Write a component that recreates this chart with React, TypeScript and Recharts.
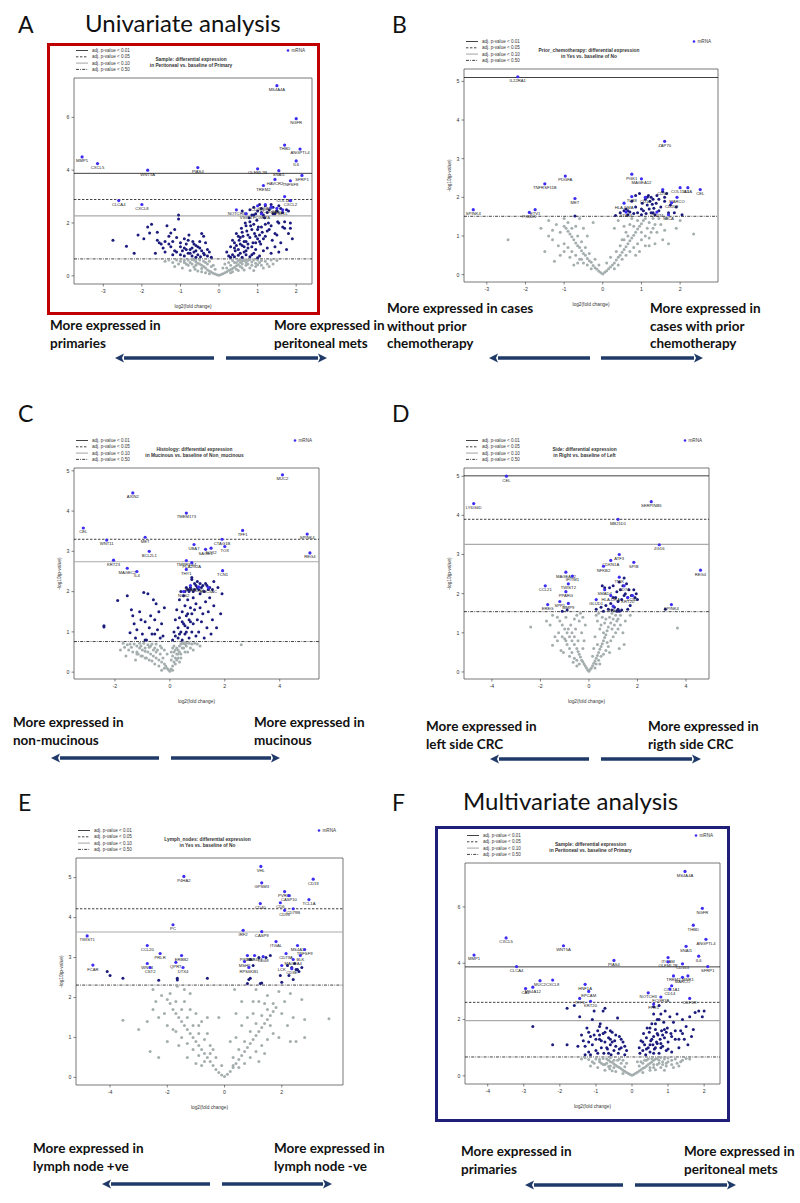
import React from 'react'
import { ScatterChart, Scatter, XAxis, YAxis, ReferenceLine, ReferenceArea } from 'recharts'

type P = [number, number]
type G = [string, number, number]

// ---- panel A: univariate, peritoneal vs primary ----
const aCuts = [3.88, 2.89, 2.27, 0.64]
const aGrey: P[] = [
  [0, 0.02], [0.05, 0.05], [-0.05, 0.04], [0.1, 0.08], [-0.1, 0.07], [0.15, 0.12], [-0.15, 0.1], [0.2, 0.15], [-0.2, 0.14],
  [0.25, 0.2], [-0.25, 0.18], [0.3, 0.24], [-0.3, 0.22], [0.35, 0.28], [-0.35, 0.3], [0.4, 0.32], [-0.4, 0.35], [0.45, 0.38],
  [-0.45, 0.4], [0.5, 0.42], [-0.5, 0.45], [0.55, 0.5], [-0.55, 0.48], [0.6, 0.55], [-0.6, 0.52], [0.65, 0.58], [-0.65, 0.6],
  [0.7, 0.6], [-0.7, 0.62], [0.8, 0.62], [-0.8, 0.6], [0.9, 0.6], [-0.9, 0.58], [1.0, 0.6], [1.1, 0.58], [-1.0, 0.55],
  [1.2, 0.55], [0.3, 0.4], [0.4, 0.5], [0.5, 0.58], [0.6, 0.45], [0.7, 0.5], [0.2, 0.3], [-0.3, 0.45], [-0.4, 0.55],
  [-0.5, 0.6], [-0.2, 0.35], [0.35, 0.15], [-0.35, 0.12], [0.45, 0.25], [-0.45, 0.28], [0.55, 0.35], [-0.6, 0.4],
  [0.75, 0.45], [0.85, 0.52], [-0.75, 0.5], [1.05, 0.5], [0.95, 0.48], [-0.85, 0.45], [-1.2, 0.5], [-1.4, 0.55],
  [-1.1, 0.6], [1.35, 0.6], [1.5, 0.58],
  [-0.95, 0.3], [-0.75, 0.2], [-0.62, 0.25], [0.8, 0.3], [0.95, 0.35], [1.1, 0.4], [1.25, 0.45], [0.65, 0.22],
  [-0.55, 0.18], [-0.8, 0.4], [-1.05, 0.45], [-1.3, 0.6], [0.9, 0.2], [1.15, 0.3], [0.5, 0.2], [-0.45, 0.15],
  [0.3, 0.12], [-0.25, 0.08], [0.6, 0.3], [-0.65, 0.33], [0.45, 0.5], [-0.35, 0.5], [0.25, 0.5], [-0.15, 0.4],
  [0.15, 0.45], [0.1, 0.3], [-0.1, 0.25], [1.3, 0.35], [1.4, 0.45], [-1.15, 0.35], [0.7, 0.4], [0.85, 0.4], [1.0, 0.42],
  [-0.9, 0.5], [-0.7, 0.45], [0.55, 0.62], [0.35, 0.58], [-0.25, 0.55], [-0.6, 0.62], [0.75, 0.58],
]
const aBlue: P[] = [
  [-2.75, 1.35], [-2.4, 1.12], [-2.2, 0.85], [-1.95, 1.4], [-1.85, 1.85], [-1.8, 1.62], [-1.75, 1.95], [-1.6, 1.35],
  [-1.55, 1.25], [-1.5, 1.2], [-1.45, 1.05], [-1.4, 0.9], [-1.35, 1.9], [-1.3, 1.5], [-1.25, 1.62], [-1.2, 1.3],
  [-1.15, 1.75], [-1.1, 1.45], [-1.05, 2.3], [-1.05, 2.15], [-1.0, 1.1], [-0.95, 0.95], [-0.9, 1.4], [-0.85, 1.2],
  [-0.8, 0.85], [-0.78, 1.55], [-0.75, 1.0], [-0.7, 0.75], [-0.68, 1.3], [-0.65, 0.9], [-0.6, 1.15], [-0.55, 0.8],
  [-0.5, 1.05], [-0.48, 0.72], [-0.45, 0.95], [-0.4, 1.5], [-0.38, 0.8], [-0.35, 1.25], [-0.3, 0.75], [-0.25, 0.9],
  [-0.9, 0.75], [-1.0, 0.8], [-1.15, 0.95], [-1.25, 1.1], [-0.6, 0.95], [-0.7, 1.05], [-0.85, 1.0], [-1.6, 1.65],
  [-1.65, 0.85], [-2.1, 1.55], [-0.2, 0.7], [-0.5, 1.3], [-0.55, 1.1], [-0.65, 1.2], [-0.75, 0.85], [-0.8, 1.35],
  [-0.9, 1.05], [-1.0, 1.25], [-1.1, 0.9], [-1.2, 0.8], [-0.4, 0.85], [-0.3, 1.0], [-0.6, 0.7], [-0.45, 1.6],
  [-1.3, 1.2], [-1.4, 1.3],
  [0.2, 0.9], [0.25, 0.75], [0.3, 1.1], [0.35, 0.8], [0.4, 1.25], [0.42, 0.95], [0.45, 1.6], [0.5, 1.0], [0.52, 1.35],
  [0.55, 0.85], [0.58, 1.8], [0.6, 1.15], [0.62, 1.5], [0.65, 0.9], [0.68, 2.0], [0.7, 1.3], [0.72, 1.7], [0.75, 1.05],
  [0.78, 2.2], [0.8, 1.45], [0.82, 1.9], [0.85, 0.8], [0.88, 1.25], [0.9, 2.3], [0.92, 1.6], [0.95, 1.0], [0.98, 2.1],
  [1.0, 1.4], [1.02, 1.85], [1.05, 0.75], [1.08, 1.2], [1.1, 2.4], [1.12, 1.65], [1.15, 0.95], [1.18, 2.2], [1.2, 1.5],
  [1.25, 1.05], [1.28, 2.0], [1.3, 1.75], [1.35, 0.85], [1.38, 1.35], [1.4, 2.35], [1.45, 1.1], [1.5, 1.55], [1.52, 2.05],
  [1.55, 0.9], [1.6, 1.25], [1.65, 1.85], [1.7, 2.05], [1.75, 1.0], [1.8, 1.6], [1.85, 2.0], [1.9, 1.4], [0.65, 1.1],
  [0.55, 1.2], [0.75, 1.55], [0.85, 1.75], [0.95, 1.25], [1.05, 1.55], [0.7, 0.95],
  [0.3, 0.7], [0.4, 0.72], [0.5, 0.78], [0.6, 0.7], [0.7, 0.8], [0.8, 0.72], [0.9, 0.85], [1.0, 0.68], [0.45, 1.15],
  [0.55, 1.45], [0.65, 1.3], [0.75, 1.2], [0.85, 1.1], [0.95, 1.5], [1.05, 1.3], [1.15, 1.4], [1.25, 1.7], [1.35, 1.9],
  [1.45, 1.6], [0.6, 1.65], [0.7, 1.9], [0.8, 2.05], [0.9, 1.95], [1.0, 1.75], [1.1, 1.85], [1.2, 1.95], [0.5, 1.5],
  [0.4, 1.05], [0.35, 1.35],
  [0.6, 2.45], [0.7, 2.35], [0.8, 2.5], [0.9, 2.6], [1.0, 2.45], [1.1, 2.55], [1.2, 2.65], [1.3, 2.5], [1.4, 2.6],
  [1.5, 2.45], [1.6, 2.55], [0.95, 2.35], [1.05, 2.7], [1.25, 2.4], [1.35, 2.7], [1.45, 2.35], [1.15, 2.3], [0.85, 2.3],
  [1.55, 2.65], [1.65, 2.4], [1.75, 2.5], [1.8, 2.45], [1.7, 1.8], [1.85, 1.8], [1.55, 2.0],
]
const aGenes: G[] = [
  ['MS4A4A', 1.5, 7.2], ['NGFR', 2.0, 5.95], ['THBD', 1.7, 4.95], ['ANGPTL4', 2.1, 4.8], ['IL6', 2.0, 4.35],
  ['MMP1', -3.55, 4.5], ['CXCL5', -3.15, 4.25], ['WNT5A', -1.85, 4.0], ['PIAS4', -0.55, 4.1], ['OLFML2B', 1.0, 4.05],
  ['SNAI1', 1.55, 3.98], ['SFRP1', 2.15, 3.8], ['HAVCR2', 1.45, 3.65], ['TNFSF8', 1.85, 3.6], ['TREM2', 1.15, 3.42],
  ['CLCA4', -2.6, 2.85], ['CXCL8', -2.0, 2.7], ['COL1A1', 1.7, 3.0], ['CXCL2', 1.85, 2.85], ['NOTCH3', 0.45, 2.5],
  ['CD163', 1.0, 2.65], ['ITGAM', 1.2, 2.7], ['COL6A3', 1.35, 2.6], ['MSR1', 1.5, 2.55], ['FCGR2A', 1.1, 2.35],
  ['SELL', 1.65, 2.5], ['VSIG4', 0.7, 2.35],
]

// ---- panel B: prior chemotherapy ----
const bCuts = [5.1, null, null, 1.51]
const bGrey: P[] = [
  [0, 0.02], [0.05, 0.06], [-0.05, 0.05], [0.1, 0.1], [-0.1, 0.09], [0.15, 0.15], [-0.15, 0.14], [0.2, 0.2], [-0.2, 0.18],
  [0.25, 0.25], [-0.25, 0.24], [0.3, 0.3], [-0.3, 0.32], [0.35, 0.38], [-0.35, 0.36], [0.4, 0.45], [-0.4, 0.42], [0.45, 0.5],
  [-0.45, 0.5], [0.5, 0.58], [-0.5, 0.55], [0.55, 0.65], [-0.55, 0.62], [0.6, 0.72], [-0.6, 0.7], [0.65, 0.8], [-0.65, 0.75],
  [0.7, 0.88], [-0.7, 0.82], [0.75, 0.95], [-0.75, 0.9], [0.8, 1.02], [-0.8, 0.98], [0.85, 1.1], [-0.85, 1.05], [0.9, 1.18],
  [-0.9, 1.12], [0.95, 1.25], [-0.95, 1.2], [1.0, 1.32], [-1.0, 1.25], [1.05, 1.4], [1.1, 1.45], [1.2, 1.35], [1.3, 1.2],
  [1.4, 1.1], [1.5, 1.3], [1.6, 1.15], [1.7, 0.8], [1.9, 1.2], [2.35, 1.05], [-1.1, 1.1], [-1.2, 1.3], [-1.3, 0.9],
  [-1.4, 1.0], [-1.5, 0.6], [-0.5, 0.3], [0.5, 0.4], [0.6, 0.5], [0.7, 0.6], [0.8, 0.7], [0.9, 0.8], [1.0, 0.9], [1.1, 1.0],
  [-0.6, 0.4], [-0.7, 0.5], [-0.8, 0.6], [-0.9, 0.7], [-1.0, 0.8], [0.3, 0.15], [-0.3, 0.15], [0.4, 0.25], [-0.4, 0.25],
  [1.2, 0.95], [0.6, 1.1], [0.7, 1.3], [0.75, 1.45], [-0.25, 1.35], [-0.4, 1.0], [-0.6, 1.45], [-0.7, 1.25], [-1.1, 0.5],
  [-1.25, 0.35], [-2.45, 0.9], [-0.75, 0.25], [1.3, 1.45], [0.4, 1.4], [0.3, 1.2], [0.5, 0.9],
  [-0.2, 0.4], [0.2, 0.45], [0.1, 0.3], [-0.1, 0.25], [0.35, 0.6], [-0.35, 0.55], [0.45, 0.75], [-0.45, 0.7],
  [0.55, 0.9], [-0.55, 0.85], [0.65, 1.0], [-0.65, 1.0], [0.8, 1.25], [-0.8, 1.2], [0.9, 1.4], [-0.9, 1.35], [1.0, 1.1],
  [1.15, 1.2], [1.25, 1.1], [1.35, 1.3], [1.45, 1.45], [1.55, 0.9], [0.95, 0.6], [0.85, 0.5], [1.2, 0.75], [1.35, 0.8],
  [-0.55, 0.4], [-0.65, 0.3], [-0.85, 0.45], [-1.0, 0.6], [-1.15, 0.75], [-1.3, 1.15], [-1.4, 1.4], [-1.0, 1.45],
  [-0.5, 1.2], [0.55, 1.25], [1.1, 0.75], [1.65, 1.45], [2.0, 1.4], [-1.6, 1.2],
]
const bBlue: P[] = [
  [-0.72, 1.52], [0.33, 1.53], [0.45, 1.6], [0.55, 1.65], [0.6, 1.7], [0.65, 1.55], [0.7, 1.62], [0.75, 1.9], [0.8, 1.58],
  [0.85, 1.75], [0.9, 1.6], [0.95, 2.1], [1.0, 1.55], [1.02, 1.85], [1.05, 1.65], [1.1, 1.95], [1.12, 1.58], [1.15, 1.8],
  [1.18, 2.05], [1.2, 1.7], [1.22, 1.9], [1.25, 1.6], [1.28, 1.82], [1.3, 1.95], [1.32, 1.72], [1.35, 1.55], [1.38, 1.85],
  [1.4, 2.05], [1.45, 1.65], [1.5, 1.75], [1.55, 2.15], [1.6, 1.9], [1.65, 2.1], [1.7, 1.6], [1.75, 1.8], [1.85, 1.6],
  [1.9, 1.75], [2.05, 1.55], [1.15, 2.0], [1.25, 2.0], [0.85, 2.05], [0.65, 1.65], [1.0, 1.7], [1.3, 1.6], [1.45, 1.95],
  [1.6, 2.0],
]
const bGenes: G[] = [
  ['IL22RA1', -2.2, 5.12], ['ZAP70', 1.6, 3.45], ['PDGFA', -0.97, 2.55], ['TNFRSF11B', -1.5, 2.35], ['MET', -0.72, 1.97],
  ['SPINK4', -3.35, 1.68], ['ETV1', -1.75, 1.68], ['PCBD1', -1.9, 1.61], ['PGK1', 0.75, 2.6], ['MAGEA12', 1.0, 2.48],
  ['CD59', 1.55, 2.2], ['COL11A1', 2.0, 2.25], ['IL1A', 2.2, 2.25], ['CEL', 2.52, 2.2], ['MARCO', 1.92, 2.0],
  ['CD209', 1.78, 1.86], ['HLA-DMA', 0.55, 1.85], ['TLR8', 0.75, 2.02], ['CD14', 1.1, 2.0], ['STAT4', 0.6, 1.62],
  ['CD274', 1.4, 1.62], ['MICA', 1.7, 1.55],
]

// ---- panel C: histology ----
const cCuts = [null, 3.3, 2.74, 0.76]
const cGrey: P[] = [
  [0, 0.02], [0.05, 0.08], [-0.05, 0.06], [0.1, 0.15], [-0.1, 0.1], [0.15, 0.25], [-0.15, 0.15], [0.2, 0.35], [-0.2, 0.2],
  [0.25, 0.45], [-0.3, 0.25], [0.3, 0.55], [-0.4, 0.3], [0.35, 0.65], [-0.5, 0.35], [0.4, 0.7], [-0.6, 0.4], [0.45, 0.72],
  [-0.7, 0.45], [0.5, 0.6], [-0.8, 0.5], [0.55, 0.7], [-0.9, 0.52], [0.6, 0.65], [-1.0, 0.55], [0.7, 0.72], [-1.1, 0.6],
  [0.8, 0.7], [-1.2, 0.65], [0.9, 0.72], [-1.3, 0.7], [-1.4, 0.62], [-1.5, 0.55], [-1.6, 0.4], [-1.7, 0.72], [-1.55, 0.68],
  [-0.45, 0.55], [-0.55, 0.6], [-0.65, 0.7], [-0.35, 0.45], [-0.25, 0.35], [0.1, 0.4], [0.2, 0.55], [0.15, 0.5], [0.3, 0.35],
  [0.4, 0.45], [0.25, 0.6], [0.05, 0.3], [-0.75, 0.62], [-0.85, 0.35], [-1.05, 0.4], [-0.95, 0.72], [-1.15, 0.45],
  [-1.25, 0.3], [2.6, 0.68], [0.35, 0.25], [-0.3, 0.6], [-0.5, 0.7], [1.0, 0.7], [0.65, 0.5],
  [-0.3, 0.05], [0.1, 0.05], [-0.2, 0.1], [-0.4, 0.15], [-0.55, 0.2], [-0.65, 0.28], [-0.75, 0.3], [-0.9, 0.35],
  [-1.0, 0.4], [-1.2, 0.45], [-1.35, 0.5], [-1.45, 0.7], [0.2, 0.2], [0.25, 0.3], [0.3, 0.45], [0.35, 0.5], [0.45, 0.6],
  [0.55, 0.5], [0.6, 0.72], [0.75, 0.6], [0.85, 0.55], [-0.6, 0.55], [-0.7, 0.65], [-0.8, 0.68], [-0.9, 0.6],
  [-1.05, 0.65], [-1.1, 0.72], [-1.2, 0.5], [-0.35, 0.65], [-0.2, 0.55], [0.05, 0.5], [0.1, 0.6], [0.15, 0.65],
  [-0.1, 0.45], [0.4, 0.35], [-0.5, 0.5], [-1.8, 0.55], [-1.65, 0.62], [1.1, 0.65], [0.5, 0.72],
]
const cBlue: P[] = [
  [-2.4, 1.15], [-2.4, 1.12], [-1.9, 1.78], [-1.55, 1.9], [-1.45, 0.98], [-1.35, 1.4], [-1.3, 1.2], [-1.25, 0.85],
  [-1.2, 1.05], [-1.1, 1.5], [-1.05, 1.3], [-1.0, 0.95], [-0.95, 1.98], [-0.9, 1.25], [-0.85, 0.8], [-0.8, 1.95],
  [-0.75, 1.1], [-0.7, 1.4], [-0.65, 0.95], [-0.6, 1.8], [-0.55, 1.3], [-0.5, 1.7], [-0.45, 1.05], [-0.4, 1.5],
  [-0.35, 0.85], [-0.3, 1.2], [-0.25, 0.9], [-0.2, 1.6], [-1.4, 1.55], [-0.9, 0.8], [-0.55, 0.95],
  [0.1, 0.8], [0.15, 1.0], [0.2, 1.3], [0.2, 0.9], [0.25, 1.55], [0.3, 1.1], [0.3, 0.85], [0.35, 1.8], [0.35, 1.35],
  [0.4, 1.0], [0.4, 2.0], [0.45, 1.5], [0.45, 0.8], [0.5, 1.2], [0.5, 1.9], [0.55, 1.65], [0.55, 0.95], [0.6, 1.4],
  [0.6, 2.1], [0.65, 1.1], [0.65, 1.8], [0.7, 1.3], [0.7, 0.85], [0.75, 1.6], [0.75, 2.05], [0.8, 1.0], [0.8, 1.45],
  [0.85, 1.85], [0.85, 1.2], [0.9, 2.2], [0.9, 1.55], [0.95, 0.9], [0.95, 1.7], [1.0, 1.3], [1.0, 2.1], [1.05, 1.0],
  [1.1, 1.6], [1.1, 1.95], [1.15, 1.25], [1.2, 2.15], [1.2, 1.45], [1.25, 0.85], [1.3, 1.75], [1.35, 1.1], [1.4, 1.5],
  [1.45, 1.85], [1.5, 0.95], [1.55, 1.3], [1.6, 1.65], [1.7, 1.1], [1.75, 2.1], [1.85, 1.45], [1.9, 1.95], [1.3, 2.2],
  [1.4, 2.05], [1.6, 2.25], [1.0, 2.25], [0.8, 2.3], [0.7, 2.0], [0.6, 1.0], [0.45, 1.25], [0.35, 0.95], [0.55, 1.15],
  [0.65, 1.45], [0.75, 1.25], [0.55, 2.0], [0.65, 2.05], [0.75, 2.1], [0.85, 2.0], [0.95, 2.15], [1.05, 2.05],
  [1.15, 2.1], [1.25, 2.0], [1.35, 2.15], [1.45, 2.1], [1.55, 2.05], [0.9, 2.05], [1.1, 2.2], [0.8, 2.35],
]
const cGenes: G[] = [
  ['MUC2', 4.1, 4.9], ['AXIN2', -1.35, 4.45], ['TMEM173', 0.6, 3.95], ['CEL', -3.15, 3.58], ['TFF1', 2.65, 3.52],
  ['SPINK4', 5.0, 3.43], ['WNT11', -2.3, 3.28], ['MET', -0.9, 3.35], ['CTAG1B', 1.9, 3.3], ['UBA7', 0.88, 3.17],
  ['TOX', 2.0, 3.12], ['SOX2', 1.5, 3.08], ['SAGE1', 1.3, 3.05], ['BCL2L1', -0.75, 3.0], ['REG4', 5.1, 2.96],
  ['KRT23', -2.05, 2.78], ['TMPRSS4', 0.6, 2.77], ['PLA2G2A', 0.8, 2.72], ['MAGEC2', -1.55, 2.58], ['IL4', -1.2, 2.5],
  ['THY1', 0.6, 2.55], ['TCN1', 1.92, 2.52], ['VCAN', 0.75, 2.15], ['NOS2', 0.5, 2.0], ['MUC5AC', 1.4, 2.1],
  ['CD44', 1.05, 2.12],
]

// ---- panel D: side ----
const dCuts = [5.01, 3.9, 3.26, 1.54]
const dGrey: P[] = [
  [0, 0.02], [0.05, 0.06], [-0.05, 0.05], [0.1, 0.1], [-0.1, 0.1], [0.15, 0.16], [-0.15, 0.15], [0.2, 0.22], [-0.2, 0.2],
  [0.25, 0.28], [-0.25, 0.26], [0.3, 0.35], [-0.3, 0.3], [0.35, 0.42], [-0.35, 0.38], [0.4, 0.5], [-0.4, 0.45], [0.45, 0.58],
  [-0.45, 0.52], [0.5, 0.65], [-0.5, 0.6], [0.55, 0.72], [-0.6, 0.7], [0.6, 0.8], [-0.7, 0.8], [0.65, 0.88], [-0.8, 0.9],
  [0.7, 0.95], [-0.9, 1.0], [0.75, 1.05], [-1.0, 1.1], [0.8, 1.15], [-1.1, 1.2], [0.9, 1.25], [-1.2, 1.3], [1.0, 1.35],
  [-1.3, 1.4], [1.1, 1.45], [-1.4, 0.9], [-1.3, 0.8], [-1.15, 0.55], [-1.0, 0.85], [-0.9, 0.7], [-0.8, 0.6], [-0.7, 0.5],
  [-0.6, 0.35], [-0.5, 0.3], [-0.4, 0.2], [0.3, 0.2], [0.4, 0.3], [0.5, 0.4], [0.6, 0.45], [0.7, 0.55], [0.8, 0.65],
  [0.9, 0.8], [1.0, 0.9], [1.1, 1.0], [1.2, 1.1], [0.85, 0.5], [1.2, 1.35], [1.3, 1.2], [0.55, 1.4], [0.35, 1.3],
  [-0.5, 1.45], [-0.6, 1.35], [-0.35, 1.5], [-0.75, 1.2], [0.6, 1.0], [0.65, 1.25], [-1.5, 0.68], [1.25, 0.6],
  [-2.4, 1.15], [3.65, 1.12], [-0.25, 0.6], [0.2, 0.6], [-0.95, 1.4], [0.95, 1.5],
  [-1.6, 1.2], [-1.5, 1.45], [-1.25, 1.0], [-1.1, 0.9], [-0.95, 0.8], [-0.85, 1.1], [-0.7, 1.0], [-0.6, 0.9],
  [-0.55, 1.1], [-0.45, 0.8], [-0.4, 1.3], [-0.3, 1.0], [-0.2, 0.8], [0.25, 0.9], [0.35, 0.7], [0.45, 1.1], [0.5, 1.2],
  [0.7, 1.35], [0.75, 0.75], [0.85, 1.4], [0.95, 1.1], [1.05, 1.2], [1.15, 1.3], [1.3, 1.45], [1.4, 1.0], [1.5, 1.3],
  [0.3, 1.45], [0.4, 1.5], [-0.25, 1.4], [-0.15, 1.2], [-0.8, 0.4], [-0.65, 0.25], [0.15, 0.4], [-1.05, 0.5],
  [1.45, 0.7], [-1.75, 1.3], [1.7, 1.45], [-0.5, 0.15], [0.25, 0.1], [0.45, 0.2],
]
const dBlue: P[] = [
  [-1.1, 1.55], [-0.9, 1.58], [0.3, 1.6], [0.5, 1.65], [0.6, 1.55], [0.7, 1.7], [0.8, 1.6], [0.85, 2.15], [0.9, 1.75],
  [0.95, 1.58], [1.0, 2.2], [1.05, 1.65], [1.1, 1.9], [1.15, 2.05], [1.2, 1.6], [1.25, 2.3], [1.3, 2.1], [1.35, 1.85],
  [1.4, 2.2], [1.45, 1.95], [1.5, 2.0], [1.55, 2.25], [1.6, 1.9], [1.65, 2.1], [1.7, 1.7], [1.75, 1.95], [1.85, 2.1],
  [1.9, 1.9], [1.95, 2.0], [2.0, 1.85], [1.25, 1.55], [1.35, 1.58], [0.65, 2.15], [0.55, 2.2], [1.45, 2.4], [1.2, 1.8],
  [1.0, 1.9], [1.6, 1.6], [1.15, 1.55], [3.15, 1.6],
]
const dGenes: G[] = [
  ['CEL', -3.4, 5.0], ['LY6G6D', -4.75, 4.3], ['SERPINB5', 2.57, 4.35], ['MB21D1', 1.2, 3.9], ['ZG16', 2.9, 3.25],
  ['ATF3', 1.25, 3.0], ['CDKN1A', 0.9, 2.85], ['SPIB', 1.85, 2.8], ['NFKB2', 0.6, 2.7], ['REG4', 4.6, 2.6],
  ['MAGEA12', -0.95, 2.55], ['IFITM1', -0.68, 2.45], ['TWIST2', -0.85, 2.25], ['CCL21', -1.8, 2.2], ['PPARG', -0.95, 2.05],
  ['SPINK4', 3.4, 1.72], ['GLUD1', 0.3, 1.85], ['EREG', -1.7, 1.72], ['SPP1', -1.2, 1.8], ['MMP9', -0.85, 1.75],
  ['TNIK', 1.25, 2.42], ['SMAD4', 0.65, 2.1], ['HLA-DRA', 0.9, 1.95], ['CD74', 1.45, 2.2], ['LCN2', 1.8, 1.95],
  ['KRT20', 1.6, 1.9], ['TFF3', 1.0, 1.68],
]

// ---- panel E: lymph nodes ----
const eCuts = [null, 4.22, 3.64, 2.31]
const eGrey: P[] = [
  [0, 0.02], [0.1, 0.08], [-0.1, 0.06], [0.2, 0.15], [-0.2, 0.12], [0.3, 0.25], [-0.3, 0.2], [0.4, 0.35], [-0.4, 0.3],
  [0.5, 0.45], [-0.5, 0.4], [0.6, 0.55], [-0.6, 0.5], [0.7, 0.65], [-0.7, 0.6], [0.8, 0.75], [-0.8, 0.7], [0.9, 0.85],
  [-0.9, 0.8], [1.0, 0.95], [-1.0, 0.9], [1.1, 1.05], [-1.1, 1.0], [1.2, 1.15], [-1.2, 1.1], [1.3, 1.25], [-1.3, 1.2],
  [1.4, 1.35], [-1.4, 1.3], [1.5, 1.45], [-1.5, 1.4], [1.6, 1.55], [-1.6, 1.5], [1.7, 1.65], [-1.7, 1.6], [1.8, 1.75],
  [-1.8, 1.7], [-1.9, 1.85], [-2.0, 1.95], [2.0, 1.6], [-2.2, 2.05], [-0.5, 0.6], [-0.7, 0.4], [-0.9, 0.55], [-1.1, 0.7],
  [-1.3, 0.85], [-1.0, 0.35], [-0.8, 0.3], [0.5, 0.25], [0.7, 0.35], [0.9, 0.5], [1.1, 0.65], [1.3, 0.8], [1.5, 0.95],
  [1.7, 1.1], [-1.5, 1.0], [-1.7, 1.15], [-2.0, 1.3], [-2.3, 1.5], [-2.5, 1.7], [2.2, 1.3], [2.4, 1.5], [2.5, 0.9],
  [2.8, 1.0], [3.65, 1.47], [-3.55, 1.43], [-3.0, 1.2], [-2.6, 0.65], [-2.5, 2.2], [-1.65, 2.28], [-1.2, 2.1], [0.35, 2.2],
  [0.6, 1.9], [1.1, 2.2], [1.5, 2.05], [1.9, 2.15], [2.7, 1.95], [-2.3, 0.5], [1.2, 0.4], [0.3, 0.5], [-0.4, 0.7],
  [-1.4, 1.9], [-0.9, 1.3], [0.4, 1.0], [1.0, 1.6], [-0.2, 1.5], [-0.6, 1.1], [1.4, 1.85], [-1.8, 1.2], [2.3, 0.9],
  [2.8, 1.45],
  [-0.3, 0.5], [-0.5, 0.8], [-0.7, 0.95], [-0.9, 1.1], [-1.1, 1.3], [-1.3, 1.5], [-1.5, 1.7], [-1.7, 1.9], [-1.9, 2.1],
  [-1.2, 1.7], [-1.0, 1.6], [-0.8, 1.4], [-0.6, 1.5], [-1.4, 2.2], [-2.1, 1.6], [-2.4, 1.9], [-2.7, 1.4], [-1.6, 0.8],
  [-1.3, 0.5], [0.3, 0.3], [0.5, 0.7], [0.7, 0.9], [0.9, 1.15], [1.1, 1.35], [1.3, 1.55], [1.5, 1.7], [1.7, 1.85],
  [1.0, 1.9], [0.8, 1.5], [0.6, 1.3], [0.4, 1.6], [1.2, 1.9], [1.6, 1.3], [1.9, 1.0], [2.1, 1.9], [2.3, 2.1], [0.2, 0.9],
  [-0.1, 0.3], [1.4, 0.6], [-2.0, 0.9],
]
const eBlue: P[] = [
  [-4.1, 2.65], [-4.0, 2.55], [-3.55, 2.48], [-2.3, 2.43], [-1.65, 2.48], [-1.65, 2.44], [-0.6, 2.48], [0.8, 2.35],
  [0.85, 2.45], [0.9, 2.48], [1.25, 2.35], [1.3, 2.36], [1.95, 2.55], [2.0, 2.38], [2.25, 2.55], [2.4, 2.45], [2.5, 2.7],
  [2.6, 2.65], [2.7, 2.75], [1.2, 3.0], [1.45, 3.0], [1.6, 3.05], [0.9, 2.95], [2.35, 2.75], [2.45, 2.85], [2.55, 2.7],
  [2.2, 2.8], [1.0, 2.8],
]
const eGenes: G[] = [
  ['VHL', 1.27, 5.28], ['P4HA2', -1.42, 5.03], ['CD19', 3.1, 4.96], ['GPSM3', 1.3, 4.87], ['PVRIG', 2.1, 4.65],
  ['CASP10', 2.25, 4.55], ['TCL1A', 2.95, 4.45], ['CD40', 1.25, 4.35], ['CD6', 1.95, 4.37], ['CD96', 2.1, 4.18],
  ['CD79B', 2.4, 4.22], ['PC', -1.8, 3.82], ['IRF2', 0.65, 3.68], ['CASP9', 1.3, 3.65], ['TWIST1', -4.8, 3.54],
  ['ITGAL', 1.8, 3.4], ['CCL20', -2.7, 3.3], ['MS4A1', 2.55, 3.3], ['TNFSF9', 2.8, 3.2], ['PRLR', -2.25, 3.1],
  ['BLK', 2.65, 3.05], ['ERBB2', -1.5, 3.05], ['CD79A', 2.15, 3.1], ['MAGEA4', 2.4, 2.95], ['FCAR', -4.6, 2.81],
  ['WNT4', -2.7, 2.85], ['CST2', -2.6, 2.75], ['QPRT', -1.7, 2.88], ['DTX4', -1.45, 2.75], ['PIK3CG', 0.8, 3.05],
  ['MAP4K1', 1.05, 3.05], ['CD48', 1.35, 3.02], ['MSH6', 0.7, 2.9], ['RPS6KB1', 0.85, 2.75], ['LCK', 2.0, 2.8],
  ['CD3E', 2.35, 2.72],
]

// ---- panel F: multivariate, peritoneal vs primary ----
const fCuts = [3.87, 2.61, 1.96, 0.67]
const fGrey: P[] = [
  [0, 0.02], [0.05, 0.05], [-0.05, 0.05], [0.1, 0.09], [-0.1, 0.08], [0.15, 0.13], [-0.15, 0.12], [0.2, 0.17], [-0.2, 0.16],
  [0.25, 0.22], [-0.25, 0.2], [0.3, 0.27], [-0.3, 0.25], [0.35, 0.3], [-0.35, 0.3], [0.4, 0.35], [-0.4, 0.33], [0.45, 0.4],
  [-0.45, 0.38], [0.5, 0.45], [-0.5, 0.42], [0.55, 0.5], [-0.55, 0.48], [0.6, 0.55], [-0.6, 0.5], [0.65, 0.6], [-0.65, 0.55],
  [0.7, 0.62], [-0.7, 0.6], [0.8, 0.65], [-0.8, 0.62], [0.9, 0.6], [-0.9, 0.58], [1.0, 0.63], [-1.0, 0.6], [1.1, 0.55],
  [-1.1, 0.5], [1.2, 0.6], [1.35, 0.5], [-1.2, 0.58], [0.3, 0.45], [0.4, 0.55], [0.5, 0.3], [-0.3, 0.45], [-0.4, 0.55],
  [-0.5, 0.3], [0.6, 0.4], [-0.6, 0.35], [0.75, 0.45], [-0.75, 0.4], [0.2, 0.35], [-0.2, 0.32], [0.85, 0.5], [-0.85, 0.45],
  [0.95, 0.45], [1.5, 0.62], [-1.3, 0.64],
  [-0.95, 0.3], [-0.75, 0.2], [-0.62, 0.25], [0.8, 0.3], [0.95, 0.35], [1.1, 0.4], [1.25, 0.45], [0.65, 0.22],
  [-0.55, 0.18], [-0.8, 0.4], [-1.05, 0.45], [0.9, 0.2], [1.15, 0.3], [0.5, 0.2], [-0.45, 0.15], [0.3, 0.12],
  [-0.25, 0.08], [0.6, 0.3], [-0.65, 0.33], [0.45, 0.6], [-0.35, 0.6], [0.25, 0.5], [-0.15, 0.45], [0.15, 0.5],
  [1.3, 0.35], [1.4, 0.55], [-1.15, 0.35], [0.7, 0.4], [0.85, 0.4], [1.0, 0.5], [-0.9, 0.5], [-0.7, 0.45], [0.55, 0.62],
  [0.35, 0.55], [-0.25, 0.55], [-0.6, 0.64], [0.75, 0.55], [-1.4, 0.6], [1.6, 0.6], [-0.5, 0.55],
]
const fBlue: P[] = [
  [-2.75, 1.75], [-2.2, 1.1], [-1.8, 1.1], [-1.8, 2.4], [-1.6, 2.5], [-1.45, 2.1], [-1.4, 1.45], [-1.35, 1.25],
  [-1.3, 1.05], [-1.25, 1.7], [-1.2, 0.85], [-1.15, 1.4], [-1.1, 1.1], [-1.05, 2.3], [-1.0, 0.9], [-0.95, 1.6],
  [-0.9, 1.3], [-0.88, 1.85], [-0.85, 1.0], [-0.8, 1.5], [-0.78, 0.8], [-0.75, 1.2], [-0.7, 1.7], [-0.68, 0.95],
  [-0.65, 1.35], [-0.6, 1.1], [-0.58, 0.75], [-0.55, 1.55], [-0.5, 0.9], [-0.48, 1.25], [-0.45, 1.05], [-0.4, 2.05],
  [-0.38, 0.8], [-0.35, 1.4], [-0.3, 1.0], [-0.25, 1.2], [-0.2, 0.75], [-0.15, 0.9], [-1.15, 0.75], [-1.0, 1.3],
  [-0.9, 1.45], [-0.7, 1.0], [-0.6, 1.3], [-1.1, 2.0], [-0.8, 2.3], [-0.75, 2.4], [-1.5, 1.05],
  [-1.3, 0.75], [-1.2, 1.2], [-1.05, 1.45], [-0.95, 0.8], [-0.85, 1.25], [-0.75, 1.55], [-0.65, 0.8], [-0.55, 1.2],
  [-0.45, 1.45], [-0.35, 0.95], [-0.3, 1.3], [-0.2, 1.05], [-0.9, 1.75], [-0.6, 1.6], [-1.2, 1.55],
  [0.2, 1.0], [0.22, 0.8], [0.25, 1.25], [0.3, 0.9], [0.32, 1.5], [0.35, 1.1], [0.38, 0.75], [0.4, 1.35], [0.42, 1.7],
  [0.45, 1.0], [0.48, 1.55], [0.5, 0.85], [0.52, 1.25], [0.55, 1.85], [0.58, 1.1], [0.6, 1.4], [0.62, 0.95], [0.65, 1.65],
  [0.68, 1.2], [0.7, 2.0], [0.72, 1.45], [0.75, 0.8], [0.78, 1.3], [0.8, 2.2], [0.82, 1.6], [0.85, 1.05], [0.88, 1.9],
  [0.9, 1.35], [0.92, 2.3], [0.95, 0.9], [0.98, 1.7], [1.0, 1.2], [1.05, 2.1], [1.08, 1.5], [1.1, 0.85], [1.15, 1.9],
  [1.2, 1.3], [1.25, 2.2], [1.3, 1.0], [1.35, 1.6], [1.4, 2.0], [1.45, 1.3], [1.5, 1.75], [1.55, 1.1], [1.6, 2.1],
  [1.65, 1.4], [1.7, 1.65], [1.75, 2.25], [1.85, 2.3], [1.95, 2.1], [2.0, 2.3], [0.6, 2.45], [0.75, 2.5], [0.65, 1.0],
  [0.55, 1.3], [0.7, 1.15], [0.8, 1.0], [0.85, 1.45], [0.95, 1.55], [0.6, 2.2],
  [0.3, 1.2], [0.4, 0.95], [0.5, 1.1], [0.6, 0.8], [0.7, 1.5], [0.8, 1.15], [0.9, 1.65], [1.0, 0.95], [1.1, 1.4],
  [1.2, 1.6], [1.3, 1.3], [1.4, 1.5], [0.5, 1.7], [0.65, 1.85], [0.75, 2.0],
]
const fGenes: G[] = [
  ['MS4A4A', 1.47, 7.26], ['NGFR', 1.95, 5.95], ['THBD', 1.7, 5.35], ['ANGPTL4', 2.05, 4.85], ['CXCL5', -3.49, 4.9],
  ['WNT5A', -1.9, 4.62], ['SNAI1', 1.5, 4.6], ['MMP1', -4.38, 4.29], ['IL6', 1.85, 4.25], ['ITGAM', 1.0, 4.2],
  ['PIAS4', -0.5, 4.1], ['OLFML2B', 1.0, 4.05], ['CD163', 1.4, 3.98], ['CLCA4', -3.2, 3.88], ['SFRP1', 2.1, 3.88],
  ['MUC2', -2.55, 3.38], ['CXCL8', -2.2, 3.4], ['MS4A12', -2.75, 3.15], ['CA1', -2.95, 3.1], ['HNF1A', -1.3, 3.25],
  ['EPCAM', -1.2, 3.0], ['TFF3', -1.45, 2.75], ['KRT20', -1.15, 2.65], ['TREM2', 1.15, 3.55], ['MARCO', 1.4, 3.5],
  ['MSR1', 1.55, 3.55], ['COL1A1', 1.1, 3.2], ['CD14', 1.05, 3.08], ['NOTCH3', 0.45, 2.95], ['FCGR3A', 0.8, 2.8],
  ['FPR1', 0.6, 2.55], ['CSF1R', 1.6, 2.75],
]

const FONT = '"Liberation Sans", Arial, sans-serif'
const CALL_FONT = 'Lato, "Open Sans", sans-serif'
const NAVY = '#1b1b7d'
const BRIGHT = '#3d2cf2'
const GREY = '#a5aeae'
const ARROW = '#1f3a68'

const CUT_TEXT = ['adj. p-value < 0.01', 'adj. p-value < 0.05', 'adj. p-value < 0.10', 'adj. p-value < 0.50']
const CUT_STYLE = [
  { stroke: '#111', strokeWidth: 0.8 },
  { stroke: '#111', strokeWidth: 0.8, strokeDasharray: '2.4 1.6' },
  { stroke: '#aaa', strokeWidth: 1.1 },
  { stroke: '#111', strokeWidth: 0.8, strokeDasharray: '3 1.2 0.8 1.2' },
]

const pts = (a: P[]) => a.map(([x, y]) => ({ x, y }))
const genes = (a: G[]) => a.map(([name, x, y]) => ({ name, x, y }))

const GreyDot = (p: any) => <circle cx={p.cx} cy={p.cy} r={1.5} fill={GREY} />
const NavyDot = (p: any) => <circle cx={p.cx} cy={p.cy} r={1.5} fill={NAVY} />
const GeneDot = (p: any) => (
  <g>
    <circle cx={p.cx} cy={p.cy} r={1.6} fill={BRIGHT} />
    <text x={p.cx} y={p.cy + 5.4} textAnchor="middle" fontSize={4.2} fill="#222" fontFamily={FONT}>
      {p.payload?.name ?? p.name}
    </text>
  </g>
)

type Panel = {
  box: [number, number, number, number]
  xDom: [number, number]
  yDom: [number, number]
  xTicks: number[]
  yTicks: number[]
  grey: P[]
  blue: P[]
  genes: G[]
  cuts: (number | null)[]
  title: [string, string]
  yLabel: boolean
}

const PANELS: Panel[] = [
  { box: [74, 78, 238, 206], xDom: [-3.76, 2.41], yDom: [-0.31, 7.49], xTicks: [-3, -2, -1, 0, 1, 2], yTicks: [0, 2, 4, 6],
    grey: aGrey, blue: aBlue, genes: aGenes, cuts: aCuts,
    title: ['Sample: differential expression', 'in Peritoneal vs. baseline of Primary'], yLabel: false },
  { box: [464, 69, 254, 213], xDom: [-3.59, 2.98], yDom: [-0.19, 5.32], xTicks: [-3, -2, -1, 0, 1, 2], yTicks: [0, 1, 2, 3, 4, 5],
    grey: bGrey, blue: bBlue, genes: bGenes, cuts: bCuts,
    title: ['Prior_chemotherapy: differential expression', 'in Yes vs. baseline of No'], yLabel: true },
  { box: [74, 468, 245, 211], xDom: [-3.49, 5.43], yDom: [-0.17, 5.07], xTicks: [-2, 0, 2, 4], yTicks: [0, 1, 2, 3, 4, 5],
    grey: cGrey, blue: cBlue, genes: cGenes, cuts: cCuts,
    title: ['Histology: differential expression', 'in Mucinous vs. baseline of Non_mucinous'], yLabel: true },
  { box: [464, 468, 245, 211], xDom: [-5.15, 4.95], yDom: [-0.18, 5.21], xTicks: [-4, -2, 0, 2, 4], yTicks: [0, 1, 2, 3, 4, 5],
    grey: dGrey, blue: dBlue, genes: dGenes, cuts: dCuts,
    title: ['Side: differential expression', 'in Right vs. baseline of Left'], yLabel: true },
  { box: [76, 858, 267, 227], xDom: [-5.19, 4.14], yDom: [-0.19, 5.49], xTicks: [-4, -2, 0, 2], yTicks: [0, 1, 2, 3, 4, 5],
    grey: eGrey, blue: eBlue, genes: eGenes, cuts: eCuts,
    title: ['Lymph_nodes: differential expression', 'in Yes vs. baseline of No'], yLabel: true },
  { box: [465, 863, 255, 221], xDom: [-4.63, 2.44], yDom: [-0.29, 7.56], xTicks: [-4, -3, -2, -1, 0, 1, 2], yTicks: [0, 2, 4, 6],
    grey: fGrey, blue: fBlue, genes: fGenes, cuts: fCuts,
    title: ['Sample: differential expression', 'in Peritoneal vs. baseline of Primary'], yLabel: false },
]

// callout text blocks under each panel
const NOTES: { x: number; y: number; lines: string[] }[] = [
  { x: 50, y: 325, lines: ['More expressed in', 'primaries'] },
  { x: 274, y: 325, lines: ['More expressed in', 'peritoneal mets'] },
  { x: 387, y: 308, lines: ['More expressed in cases', 'without prior', 'chemotherapy'] },
  { x: 650, y: 308, lines: ['More expressed in', 'cases with prior', 'chemotherapy'] },
  { x: 13, y: 722, lines: ['More expressed in', 'non-mucinous'] },
  { x: 254, y: 722, lines: ['More expressed in', 'mucinous'] },
  { x: 426, y: 726, lines: ['More expressed in', 'left side CRC'] },
  { x: 648, y: 726, lines: ['More expressed in', 'rigth side CRC'] },
  { x: 33, y: 1148, lines: ['More expressed in', 'lymph node +ve'] },
  { x: 274, y: 1148, lines: ['More expressed in', 'lymph node -ve'] },
  { x: 461, y: 1151, lines: ['More expressed in', 'primaries'] },
  { x: 684, y: 1151, lines: ['More expressed in', 'peritoneal mets'] },
]
const ARROWS: { from: number; to: number; y: number }[] = [
  { from: 214, to: 115, y: 358 }, { from: 226, to: 327, y: 358 },
  { from: 590, to: 489, y: 358 }, { from: 601, to: 703, y: 358 },
  { from: 159, to: 51, y: 758 }, { from: 171, to: 280, y: 758 },
  { from: 589, to: 490, y: 759 }, { from: 601, to: 701, y: 759 },
  { from: 210, to: 102, y: 1184 }, { from: 222, to: 332, y: 1184 },
  { from: 623, to: 525, y: 1185 }, { from: 635, to: 736, y: 1185 },
]

const YW = 26
const XH = 16
const MT = 6
const MR = 6

function Volcano({ p }: { p: Panel }) {
  const [L, T, W, H] = p.box
  return (
    <div style={{ position: 'absolute', left: L - YW, top: T - MT }}>
      <ScatterChart width={W + YW + MR} height={H + MT + XH} margin={{ top: MT, right: MR, bottom: 0, left: 0 }}>
        <XAxis
          type="number"
          dataKey="x"
          domain={p.xDom}
          ticks={p.xTicks}
          interval={0}
          height={XH}
          axisLine={false}
          tickLine={{ stroke: '#333', strokeWidth: 0.6 }}
          tickSize={2.5}
          tickMargin={2.5}
          tick={{ fontSize: 5.2, fill: '#333', fontFamily: FONT }}
        />
        <YAxis
          type="number"
          dataKey="y"
          domain={p.yDom}
          ticks={p.yTicks}
          interval={0}
          width={YW}
          axisLine={false}
          tickLine={{ stroke: '#333', strokeWidth: 0.6 }}
          tickSize={2.5}
          tickMargin={2}
          tick={{ fontSize: 5.2, fill: '#333', fontFamily: FONT }}
        />
        <ReferenceArea x1={p.xDom[0]} x2={p.xDom[1]} y1={p.yDom[0]} y2={p.yDom[1]} fill="none" stroke="#555" strokeWidth={0.8} />
        {p.cuts.map((c, i) =>
          c == null ? null : <ReferenceLine key={i} y={c} {...CUT_STYLE[i]} />
        )}
        <Scatter data={pts(p.grey)} shape={GreyDot} isAnimationActive={false} />
        <Scatter data={pts(p.blue)} shape={NavyDot} isAnimationActive={false} />
        <Scatter data={genes(p.genes)} shape={GeneDot} isAnimationActive={false} />
      </ScatterChart>
    </div>
  )
}

function Decor({ p }: { p: Panel }) {
  const [L, T, W, H] = p.box
  const rows = [-27.5, -21.2, -14.9, -8.6]
  const cx = L + W / 2 - 2
  return (
    <svg width={800} height={1203} style={{ position: 'absolute', left: 0, top: 0, pointerEvents: 'none' }}>
      <g fontFamily={FONT} fill="#333">
        {rows.map((dy, i) => (
          <g key={i}>
            <line x1={L + 2} x2={L + 14} y1={T + dy} y2={T + dy} {...CUT_STYLE[i]} />
            <text x={L + 18} y={T + dy} dominantBaseline="central" fontSize={4.6}>{CUT_TEXT[i]}</text>
          </g>
        ))}
        <text x={cx} y={T - 19} textAnchor="middle" dominantBaseline="central" fontSize={4.8} fontWeight="bold">{p.title[0]}</text>
        <text x={cx} y={T - 12.6} textAnchor="middle" dominantBaseline="central" fontSize={4.8} fontWeight="bold">{p.title[1]}</text>
        <circle cx={L + W - 24} cy={T - 27.5} r={1.3} fill={BRIGHT} />
        <text x={L + W - 20.5} y={T - 27.5} dominantBaseline="central" fontSize={4.6}>mRNA</text>
        <text x={L + W / 2} y={T + H + 22} textAnchor="middle" dominantBaseline="central" fontSize={4.8}>log2(fold change)</text>
        {p.yLabel && (
          <text x={L - 15} y={T + H / 2} textAnchor="middle" dominantBaseline="central" fontSize={4.8}
            transform={`rotate(-90 ${L - 15} ${T + H / 2})`}>-log10(p-value)</text>
        )}
      </g>
    </svg>
  )
}

function Arrow({ from, to, y }: { from: number; to: number; y: number }) {
  const dir = to > from ? 1 : -1
  const base = to - dir * 9
  return (
    <g>
      <line x1={from} x2={base} y1={y} y2={y} stroke={ARROW} strokeWidth={3.4} />
      <polygon points={`${to},${y} ${base},${y - 4.6} ${base + dir * 2},${y} ${base},${y + 4.6}`} fill={ARROW} />
    </g>
  )
}

export default function App() {
  return (
    <div style={{ position: 'absolute', left: 0, top: 0, width: 800, height: 1203, background: '#fff', overflow: 'hidden' }}>
      <style>{'body{margin:0}'}</style>
      {PANELS.map((p, i) => <Volcano key={i} p={p} />)}
      {PANELS.map((p, i) => <Decor key={'d' + i} p={p} />)}
      <div style={{ position: 'absolute', left: 47, top: 43, width: 273, height: 272, border: '3px solid #c00000', boxSizing: 'border-box' }} />
      <div style={{ position: 'absolute', left: 435, top: 826, width: 295, height: 296, border: '3px solid #1f1f7a', boxSizing: 'border-box' }} />
      <svg width={800} height={1203} style={{ position: 'absolute', left: 0, top: 0, pointerEvents: 'none' }}>
        <g fontFamily={CALL_FONT} fill="#111">
          <text x={18} y={33} fontSize={23}>A</text>
          <text x={392} y={33} fontSize={23}>B</text>
          <text x={18} y={422} fontSize={23}>C</text>
          <text x={392} y={422} fontSize={23}>D</text>
          <text x={18} y={811} fontSize={23}>E</text>
          <text x={392} y={811} fontSize={23}>F</text>
          <text x={85} y={32} fontSize={24}>Univariate analysis</text>
          <text x={463} y={810} fontSize={24}>Multivariate analysis</text>
          {NOTES.map((n, i) => (
            <text key={i} x={n.x} y={n.y} fontSize={13.5} fontWeight={700} dominantBaseline="central">
              {n.lines.map((l, j) => (
                <tspan key={j} x={n.x} dy={j === 0 ? 0 : 17.5}>{l}</tspan>
              ))}
            </text>
          ))}
        </g>
        {ARROWS.map((a, i) => <Arrow key={i} {...a} />)}
      </svg>
    </div>
  )
}
